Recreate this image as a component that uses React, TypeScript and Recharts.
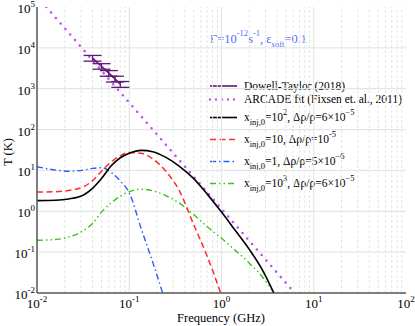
import { LineChart, Line, XAxis, YAxis, ReferenceLine, ErrorBar } from 'recharts';

// frequencies in GHz, temperatures in K
const modelFreq = [0.01, 0.016, 0.022, 0.032, 0.04, 0.05, 0.063, 0.08, 0.1, 0.135, 0.18, 0.25, 0.35, 0.5, 0.7, 1.0, 1.4, 2.0, 2.8, 3.7];
const blackT = [1.82, 1.86, 2.0, 2.51, 3.63, 6.31, 12.6, 20.4, 26.3, 30.9, 28.8, 20.9, 12.6, 6.31, 2.63, 0.955, 0.347, 0.117, 0.0355, 0.01];
const greenT = [0.195, 0.204, 0.234, 0.339, 0.501, 0.955, 1.58, 2.34, 3.02, 3.47, 3.16, 2.4, 1.58, 0.832, 0.417, 0.219, 0.112, 0.0537, 0.024, 0.01];

const redFreq = [0.01, 0.016, 0.022, 0.032, 0.04, 0.05, 0.063, 0.08, 0.1, 0.135, 0.18, 0.25, 0.35, 0.5, 0.7, 0.98];
const redT = [2.95, 3.02, 3.24, 3.98, 5.62, 9.55, 15.8, 22.9, 27.5, 26.3, 19.1, 9.55, 3.16, 0.468, 0.0794, 0.01];

const blueFreq = [0.01, 0.016, 0.022, 0.032, 0.04, 0.05, 0.063, 0.08, 0.1, 0.135, 0.18, 0.23];
const blueT = [12.3, 10.2, 9.55, 10.2, 11.2, 11.7, 9.12, 5.5, 2.82, 0.372, 0.0562, 0.01];

const arcadeFreq = [0.0126, 0.1, 1, 6.2];
const arcadeT = [100000, 457, 1.15, 0.01];

const dtFreq = [0.04, 0.05, 0.06, 0.07, 0.08];
const dtT = [5620, 3550, 2400, 1740, 1290];
const dtErr = [900, 550, 380, 280, 210];

const xTicks = [0.01, 0.1, 1, 10, 100];
const yTicks = [0.01, 0.1, 1, 10, 100, 1000, 10000, 100000];

const pts = (f: number[], t: number[]) => f.map((v, i) => ({ f: v, t: t[i] }));
const dtData = dtFreq.map((v, i) => ({ f: v, t: dtT[i], err: dtErr[i] }));

const minorX: number[] = [];
[0.01, 0.1, 1, 10].forEach((d) => {
  for (let k = 2; k <= 9; k++) minorX.push(+(d * k).toPrecision(3));
});

const FONT = '"Liberation Serif", "DejaVu Serif", serif';
const GRID = '#e3e7e3';

const XTick = (props: any) => {
  const { x, y, payload } = props;
  const e = Math.round(Math.log10(payload.value));
  return (
    <text x={x} y={y + 15} textAnchor="middle" fontSize={13} fill="#000">
      10<tspan dy={-6} fontSize={9}>{e}</tspan>
    </text>
  );
};

const YTick = (props: any) => {
  const { x, y, payload } = props;
  const e = Math.round(Math.log10(payload.value));
  return (
    <text x={x} y={y + 6} textAnchor="end" fontSize={13} fill="#000">
      10<tspan dy={-6} fontSize={9}>{e}</tspan>
    </text>
  );
};

const sub = (s: string) => <tspan dy={3.5} fontSize={8.5}>{s}</tspan>;

const legendRows = [
  { y: 86, stroke: '#5e1a70', dash: undefined, w: 1.6, cap: 'butt', text: <>Dowell-Taylor (2018)</> },
  { y: 99.5, stroke: '#c14ef5', dash: '0 6', w: 2.4, cap: 'round', text: <>ARCADE fit (Fixsen et. al., 2011)</> },
  {
    y: 117.5, stroke: '#000', dash: undefined, w: 1.6, cap: 'butt',
    text: <>x{sub('inj,0')}<tspan dy={-3.5}>=10</tspan><tspan dy={-6} fontSize={8.5}>2</tspan><tspan dy={6}>, Δρ/ρ=6×10</tspan><tspan dy={-6} fontSize={8.5}>−5</tspan></>,
  },
  {
    y: 139.5, stroke: '#ff2a2a', dash: '6 3.5', w: 1.5, cap: 'butt',
    text: <>x{sub('inj,0')}<tspan dy={-3.5}>=10, Δρ/ρ=10</tspan><tspan dy={-6} fontSize={8.5}>-5</tspan></>,
  },
  {
    y: 161.5, stroke: '#2f5cf5', dash: '6 3 1.5 3', w: 1.4, cap: 'butt',
    text: <>x{sub('inj,0')}<tspan dy={-3.5}>=1, Δρ/ρ=5×10</tspan><tspan dy={-6} fontSize={8.5}>−6</tspan></>,
  },
  {
    y: 183.5, stroke: '#37c51a', dash: '6 3 1.5 3 1.5 3', w: 1.4, cap: 'butt',
    text: <>x{sub('inj,0')}<tspan dy={-3.5}>=10</tspan><tspan dy={-6} fontSize={8.5}>3</tspan><tspan dy={6}>, Δρ/ρ=6×10</tspan><tspan dy={-6} fontSize={8.5}>−5</tspan></>,
  },
];

export default function App() {
  return (
    <div style={{ position: 'absolute', left: 0, top: 0, background: '#fff' }}>
      <style>{`svg text, svg tspan { font-family: ${FONT} !important; }`}</style>
      <LineChart width={415} height={326} margin={{ top: 7, right: 9, left: 0, bottom: 0 }}>
        <XAxis
          dataKey="f" type="number" scale="log" domain={[0.01, 100]} ticks={xTicks} allowDataOverflow
          height={33} tickSize={0} tickMargin={0} tick={<XTick />} stroke="#555" strokeWidth={1.5} interval={0}
        />
        <XAxis xAxisId="top" orientation="top" dataKey="f" type="number" scale="log" domain={[0.01, 100]}
          allowDataOverflow height={0} tick={false} tickLine={false} stroke="#555" strokeWidth={1.5} />
        <YAxis
          type="number" scale="log" domain={[0.01, 100000]} ticks={yTicks} allowDataOverflow
          width={37} tickSize={0} tickMargin={2} tick={<YTick />} stroke="#555" strokeWidth={1.5} interval={0}
        />
        <YAxis yAxisId="right" orientation="right" type="number" scale="log" domain={[0.01, 100000]}
          allowDataOverflow width={0} tick={false} tickLine={false} stroke="#555" strokeWidth={2} />

        {minorX.map((v) => (
          <ReferenceLine key={'mx' + v} x={v} stroke={GRID} strokeDasharray="3 2" strokeWidth={1} />
        ))}
        {[0.1, 1, 10].map((v) => (
          <ReferenceLine key={'x' + v} x={v} stroke={GRID} strokeWidth={1.2} />
        ))}
        {[0.1, 1, 10, 100, 1000, 10000].map((v) => (
          <ReferenceLine key={'y' + v} y={v} stroke={GRID} strokeWidth={1.2} />
        ))}

        <Line data={pts(arcadeFreq, arcadeT)} dataKey="t" type="linear" stroke="#c14ef5" strokeWidth={2.6}
          strokeDasharray="0 7.3" strokeLinecap="round" dot={false} isAnimationActive={false} />
        <Line data={dtData} dataKey="t" type="linear" stroke="#5e1a70" strokeWidth={1.6} dot={false} isAnimationActive={false}>
          <ErrorBar dataKey="err" direction="y" width={9} stroke="#5e1a70" strokeWidth={1.3} />
        </Line>
        <Line data={pts(modelFreq, greenT)} dataKey="t" type="monotone" stroke="#37c51a" strokeWidth={1.4}
          strokeDasharray="6 3 1.5 3 1.5 3" dot={false} isAnimationActive={false} />
        <Line data={pts(blueFreq, blueT)} dataKey="t" type="monotone" stroke="#2f5cf5" strokeWidth={1.4}
          strokeDasharray="6 3 1.5 3" dot={false} isAnimationActive={false} />
        <Line data={pts(redFreq, redT)} dataKey="t" type="monotone" stroke="#ff2a2a" strokeWidth={1.5}
          strokeDasharray="6 3.5" dot={false} isAnimationActive={false} />
        <Line data={pts(modelFreq, blackT)} dataKey="t" type="monotone" stroke="#000" strokeWidth={1.6}
          dot={false} isAnimationActive={false} />

        <text x={210} y={43} fontSize={12.5} fill="#4f6ef7">
          Γ=10<tspan dy={-7} fontSize={8.5}>-12</tspan><tspan dy={7}>s</tspan><tspan dy={-7} fontSize={8.5}>-1</tspan>
          <tspan dy={7}>, ε</tspan><tspan dy={4} fontSize={8.5}>soft</tspan><tspan dy={-4}>=0.1</tspan>
        </text>

        {legendRows.map((r, i) => (
          <g key={i}>
            <line x1={210} x2={237} y1={r.y} y2={r.y} stroke={r.stroke} strokeWidth={r.w}
              strokeDasharray={r.dash} strokeLinecap={r.cap as any} />
            <text x={244} y={r.y + 3.5} fontSize={11.5} fill="#000">{r.text}</text>
          </g>
        ))}

        <text x={221} y={322} textAnchor="middle" fontSize={12.5} fill="#000">Frequency (GHz)</text>
        <text x={12} y={152} textAnchor="middle" fontSize={12.5} fill="#000"
          transform="rotate(-90 12 152)">T (K)</text>
      </LineChart>
    </div>
  );
}
